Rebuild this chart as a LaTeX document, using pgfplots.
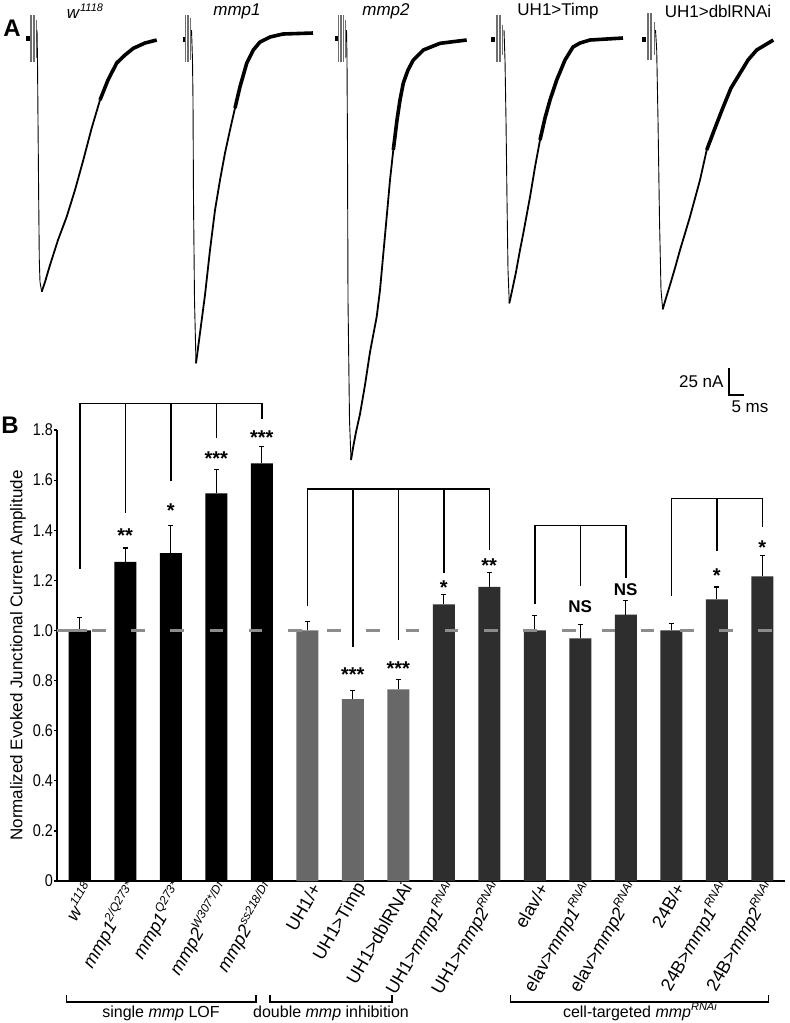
\documentclass[border=0pt]{standalone}
\usepackage{fontspec}
\setmainfont{Liberation Sans}
\usepackage{pgfplots}
\usepackage{pgfplotstable}
\pgfplotsset{compat=1.18}
\definecolor{bargray}{RGB}{104,104,104}
\definecolor{bardark}{RGB}{46,46,46}
\definecolor{dashgray}{RGB}{140,140,140}
\definecolor{artgray}{RGB}{110,110,110}
\newcommand\fs[1]{\fontsize{#1}{#1}\selectfont}
\newcommand\sups[1]{\raisebox{0.42em}{\fs{11}#1}}
\newcommand\xsups[1]{\raisebox{0.42em}{\fs{12}#1}}

\pgfplotstableread{
x y e
0 1.000 0.051
1 1.274 0.055
2 1.309 0.111
3 1.547 0.096
4 1.667 0.067
}\grpA
\pgfplotstableread{
x y e
5 1.000 0.035
6 0.726 0.035
7 0.765 0.040
}\grpB
\pgfplotstableread{
x y e
8 1.104 0.040
9 1.174 0.056
10 1.000 0.060
11 0.968 0.056
12 1.063 0.057
13 1.000 0.028
14 1.124 0.050
15 1.216 0.082
}\grpC

\begin{document}
\begin{tikzpicture}
\path[use as bounding box] (0,0) rectangle (790pt,-1023pt);

% ---------------- Panel A: traces (pixel coordinates) ----------------
\begin{axis}[at={(0pt,0pt)}, anchor=north west, scale only axis,
  width=790pt, height=480pt, xmin=0, xmax=790, ymin=0, ymax=480,
  y dir=reverse, hide axis, clip=false, unbounded coords=jump]
% stubs
\addplot[black, line width=5pt] coordinates {(26,38.5) (30,38.5) (29,nan) (182.5,39.5) (186,39.5) (184,nan) (335,38.5) (338.5,38.5) (337,nan) (491,39) (495,39) (494,nan) (641.5,39) (645.5,39)};
% stimulus artifacts
\addplot[artgray, line width=0.9pt] coordinates {
(30,15)(30,62)(0,nan)(31.5,15)(31.5,62)(0,nan)(33,15)(33,62)(0,nan)(34.5,15)(34.5,62)(0,nan)(36,20)(36,58)(0,nan)
(185.5,15)(185.5,62)(0,nan)(187,15)(187,62)(0,nan)(188.5,15)(188.5,62)(0,nan)(190,18)(190,60)(0,nan)
(338.5,15)(338.5,62)(0,nan)(340,15)(340,62)(0,nan)(341.5,15)(341.5,62)(0,nan)(343,15)(343,62)(0,nan)(345,20)(345,58)(0,nan)
(496,15)(496,62)(0,nan)(497.5,15)(497.5,62)(0,nan)(499,15)(499,62)(0,nan)(500.5,15)(500.5,62)(0,nan)(502.5,25)(502.5,55)(0,nan)
(647,13)(647,60)(0,nan)(648.5,13)(648.5,60)(0,nan)(650,13)(650,60)(0,nan)(651.5,13)(651.5,60)(0,nan)(654,22)(654,55)};
% falling phases
\addplot[black, line width=0.9pt] coordinates {(0,nan)
(37,30)(37.5,60)(38,120)(38.7,200)(39.3,260)(40,282)(41.7,291.7)(0,nan)
(191.5,30)(192.5,60)(193,100)(193.5,200)(194.5,300)(196,363.3)(0,nan)
(346.5,30)(347,60)(347.5,150)(348,300)(349.5,420)(351,460)(0,nan)
(504,30)(505,60)(506,120)(507,200)(508,270)(509.3,303.3)(0,nan)
(655.5,30)(656.7,50)(658,120)(659.5,220)(661,290)(662.7,309.3)};
% rising phases
\addplot[black, line width=1.8pt] coordinates {
(41.7,291.7)(45,282)(50,265)(58,240)(66.7,216.7)(75,190)(83.3,160)(91.7,128)(100,100)(0,nan)
(196,363.3)(200,333)(205,295)(210,250)(215,210)(220,180)(225,153)(230,130)(235,108)(0,nan)
(351,460)(353,448)(356,432)(360,414)(365,385)(370,352)(376.7,316.7)(380,290)(386.7,216.7)(390,180)(393.3,150)(0,nan)
(509.3,303.3)(512,291)(516,272)(520,250)(523.3,233.3)(530,197)(535,167)(540,140)(0,nan)
(662.7,309.3)(666,298)(670,285)(675,268)(680,250)(690,216.7)(700,180)(706.7,150)};
% noisy tails
\addplot[black, line width=3.6pt] coordinates {
(100,100)(108,80)(116.7,63)(125,55)(133.3,48.3)(145,43)(156.7,40)(0,nan)
(235,108)(240,86.7)(246.7,63.3)(253.3,50)(260,42)(270,37)(283,34)(313,33)(0,nan)
(393.3,150)(397,120)(400,100)(403.3,83)(408,70)(413.3,60)(423.3,50)(440,43.3)(466.7,40)(0,nan)
(540,140)(545,118)(550,100)(556.7,80)(565,60)(573,47)(580,43)(590,40)(623,38)(0,nan)
(706.7,150)(715,128)(723.3,106.7)(731,88)(740,73.3)(748,60)(756.7,50)(765,45)(773.3,40)};
% scale bar
\addplot[black, line width=1.5pt] coordinates {(729,368) (729,395) (744,395)};
\node[font=\fs{17}, anchor=base east] at (727,387) {25 nA};
\node[font=\fs{17}] at (750,407) {5 ms};
% trace labels
\node[font=\fs{17}] at (85,11) {\textit{w}\sups{\textit{1118}}};
\node[font=\fs{17}] at (237,11) {\textit{mmp1}};
\node[font=\fs{17}] at (386,11) {\textit{mmp2}};
\node[font=\fs{17}] at (558,11) {UH1>Timp};
\node[font=\fs{17}] at (718,11) {UH1>dblRNAi};
\node[font=\fs{24}\bfseries] at (12,28) {A};
\node[font=\fs{24}\bfseries] at (10,425) {B};
% group brackets under panel B
\addplot[black, line width=1.5pt] coordinates {(66.7,995)(66.7,1002)(256,1002)(256,995)(0,nan)
(270,995)(270,1002)(392,1002)(392,995)(0,nan)
(510.7,995)(510.7,1002)(768.3,1002)(768.3,995)};
\node[font=\fs{16}, anchor=base] at (161,1017) {single \textit{mmp} LOF};
\node[font=\fs{16}, anchor=base] at (331,1017) {double \textit{mmp} inhibition};
\node[font=\fs{16}, anchor=base] at (640,1017) {cell-targeted \textit{mmp}\sups{\textit{RNAi}}};
\end{axis}

% ---------------- Panel B: bar chart ----------------
\begin{axis}[at={(57pt,-881pt)}, anchor=south west, scale only axis,
  width=728pt, height=451pt, xmin=-0.5, xmax=15.5, ymin=0, ymax=1.8,
  clip=false,
  axis x line*=bottom, axis y line*=left,
  axis line style={line width=1.4pt, -},
  x axis line style={-}, y axis line style={-},
  ytick={0,0.2,0.4,0.6,0.8,1.0,1.2,1.4,1.6,1.8},
  yticklabels={0,0.2,0.4,0.6,0.8,1.0,1.2,1.4,1.6,1.8},
  xtick={0,1,2,3,4,5,6,7,8,9,10,11,12,13,14,15},
  xticklabels={
    {\textit{w}\xsups{\textit{1118}}},
    {\textit{mmp1}\xsups{\textit{2/Q273*}}},
    {\textit{mmp1}\xsups{\textit{Q273*}}},
    {\textit{mmp2}\xsups{\textit{W307*/Df}}},
    {\textit{mmp2}\xsups{\textit{ss218/Df}}},
    {UH1/+},
    {UH1>Timp},
    {UH1>dblRNAi},
    {UH1>\textit{mmp1}\xsups{\textit{RNAi}}},
    {UH1>\textit{mmp2}\xsups{\textit{RNAi}}},
    {elav/+},
    {elav>\textit{mmp1}\xsups{\textit{RNAi}}},
    {elav>\textit{mmp2}\xsups{\textit{RNAi}}},
    {24B/+},
    {24B>\textit{mmp1}\xsups{\textit{RNAi}}},
    {24B>\textit{mmp2}\xsups{\textit{RNAi}}}},
  x tick style={draw=none},
  y tick style={line width=1.2pt, black},
  tick align=outside, major tick length=3pt,
  yticklabel style={font=\fs{17}, inner sep=1pt, xscale=0.85},
  xticklabel style={font=\fs{18}, rotate=60, anchor=east, inner sep=1pt, xshift=5pt, yshift=-8pt},
  ylabel={Normalized Evoked Junctional Current Amplitude},
  every axis y label/.style={at={(axis description cs:-0.0536,0.5)}, rotate=90, anchor=center, font=\fs{17}},
  /pgf/number format/assume math mode=true]

\addplot[ybar, bar width=22pt, bar shift=0pt, fill=black, draw=none,
  error bars/.cd, y dir=plus, y explicit,
  error bar style={line width=1.3pt, black},
  error mark options={rotate=90, mark size=2.5pt, line width=1.3pt, black}]
  table[x=x, y=y, y error=e] {\grpA};
\addplot[ybar, bar width=22pt, bar shift=0pt, fill=bargray, draw=none,
  error bars/.cd, y dir=plus, y explicit,
  error bar style={line width=1.3pt, black},
  error mark options={rotate=90, mark size=2.5pt, line width=1.3pt, black}]
  table[x=x, y=y, y error=e] {\grpB};
\addplot[ybar, bar width=22pt, bar shift=0pt, fill=bardark, draw=none,
  error bars/.cd, y dir=plus, y explicit,
  error bar style={line width=1.3pt, black},
  error mark options={rotate=90, mark size=2.5pt, line width=1.3pt, black}]
  table[x=x, y=y, y error=e] {\grpC};

% reference line at 1.0
\addplot[dashgray, line width=3pt, dash pattern=on 13.5pt off 25.7pt, dash phase=4.2pt] coordinates {(-0.5,1) (15.5,1)};
\addplot[dashgray, line width=3pt] coordinates {(-0.385,1) (0.165,1)};

% significance brackets
\draw[line width=1.5pt] (0,1.245) -- (0,1.906) -- (4,1.906) -- (4,1.842);
\draw[line width=1.5pt] (1,1.47) -- (1,1.906);
\draw[line width=1.5pt] (2,1.595) -- (2,1.906);
\draw[line width=1.5pt] (3,1.769) -- (3,1.906);
\draw[line width=1.5pt] (5,1.097) -- (5,1.564) -- (9,1.564) -- (9,1.321);
\draw[line width=1.5pt] (6,0.934) -- (6,1.564);
\draw[line width=1.5pt] (7,0.962) -- (7,1.564);
\draw[line width=1.5pt] (8,1.23) -- (8,1.564);
\draw[line width=1.5pt] (10,1.105) -- (10,1.418) -- (12,1.418) -- (12,1.208);
\draw[line width=1.5pt] (11,1.178) -- (11,1.418);
\draw[line width=1.5pt] (13,1.137) -- (13,1.527) -- (15,1.527) -- (15,1.414);
\draw[line width=1.5pt] (14,1.318) -- (14,1.527);

% stars
\node[font=\fs{20}\bfseries] at (1,1.378) {**};
\node[font=\fs{20}\bfseries] at (2,1.480) {*};
\node[font=\fs{20}\bfseries] at (3,1.684) {***};
\node[font=\fs{20}\bfseries] at (4,1.768) {***};
\node[font=\fs{20}\bfseries] at (6,0.822) {***};
\node[font=\fs{20}\bfseries] at (7,0.849) {***};
\node[font=\fs{20}\bfseries] at (8,1.172) {*};
\node[font=\fs{20}\bfseries] at (9,1.258) {**};
\node[font=\fs{17}\bfseries] at (11,1.097) {NS};
\node[font=\fs{17}\bfseries] at (12,1.161) {NS};
\node[font=\fs{20}\bfseries] at (14,1.218) {*};
\node[font=\fs{20}\bfseries] at (15,1.331) {*};
\end{axis}
\end{tikzpicture}
\end{document}
